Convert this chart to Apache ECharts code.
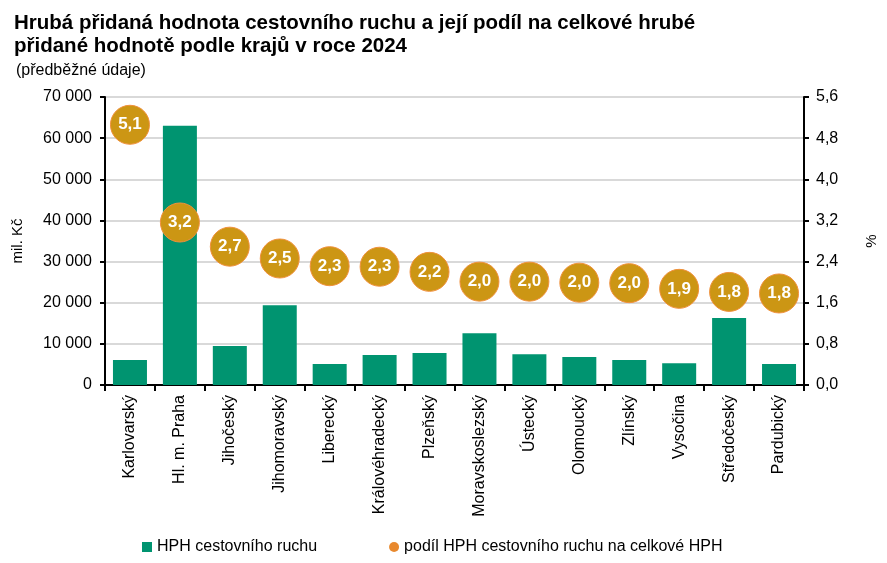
<!DOCTYPE html>
<html>
<head>
<meta charset="utf-8">
<script src="https://cdn.jsdelivr.net/npm/echarts@6/dist/echarts.min.js"></script>
<style>
  html, body { margin: 0; padding: 0; background: #fff; }
  #chart { width: 887px; height: 563px; }
</style>
</head>
<body>
<div id="chart"></div>
<script>
const regions = ['Karlovarský', 'Hl. m. Praha', 'Jihočeský', 'Jihomoravský', 'Liberecký', 'Královéhradecký', 'Plzeňský',
  'Moravskoslezský', 'Ústecký', 'Olomoucký', 'Zlínský', 'Vysočina', 'Středočeský', 'Pardubický']
// mil. Kč
const hphValues = [6100, 63000, 9500, 19400, 5100, 7300, 7800, 12600, 7500, 6800, 6100, 5300, 16300, 5100]
// %
const shareValues = [5.06, 3.16, 2.69, 2.46, 2.31, 2.30, 2.20, 2.01, 2.01, 1.99, 1.98, 1.87, 1.81, 1.78]

const fnt = 'Liberation Sans, Arial, sans-serif'
const fmtThousands = v => String(v).replace(/\B(?=(\d{3})+(?!\d))/g, ' ')
const fmtComma = (v, d) => v.toFixed(d).replace('.', ',')

const chart = echarts.init(document.getElementById('chart'))
const option = {
  animation: false,
  textStyle: { fontFamily: fnt },
  title: [
    {
      text: 'Hrubá přidaná hodnota cestovního ruchu a její podíl na celkové hrubé\npřidané hodnotě podle krajů v roce 2024',
      left: 9, top: 7,
      textStyle: { fontSize: 20.5, fontWeight: 'bold', color: '#000', lineHeight: 23, fontFamily: fnt }
    },
    {
      text: '(předběžné údaje)',
      left: 11, top: 58,
      textStyle: { fontSize: 16, fontWeight: 'normal', color: '#000', fontFamily: fnt }
    }
  ],
  legend: {
    bottom: 3,
    left: 137,
    itemGap: 72,
    itemWidth: 10,
    itemHeight: 10,
    textStyle: { fontSize: 16, color: '#000', fontFamily: fnt },
    data: [
      { name: 'HPH cestovního ruchu', icon: 'rect' },
      { name: 'podíl HPH cestovního ruchu na celkové HPH', icon: 'circle', itemStyle: { color: '#E8892E', borderWidth: 0 } }
    ]
  },
  grid: { left: 105, right: 78, top: 97, bottom: 178 },
  xAxis: {
    type: 'category',
    data: regions,
    axisLine: { lineStyle: { color: '#000', width: 2 } },
    axisTick: { show: true, length: 6, lineStyle: { color: '#000', width: 2 } },
    axisLabel: { rotate: 90, fontSize: 16, color: '#000', margin: 10, interval: 0 }
  },
  yAxis: [
    {
      type: 'value',
      min: 0, max: 70000, interval: 10000,
      name: 'mil. Kč',
      nameLocation: 'middle',
      nameGap: 80,
      nameRotate: 90,
      nameTextStyle: { fontSize: 15, color: '#000' },
      axisLine: { show: true, lineStyle: { color: '#000', width: 2 } },
      axisTick: { show: true, length: 5, lineStyle: { color: '#000', width: 2 } },
      axisLabel: { fontSize: 16, color: '#000', margin: 13, formatter: fmtThousands },
      splitLine: { lineStyle: { color: '#d9d9d9', width: 2 } }
    },
    {
      type: 'value',
      min: 0, max: 5.6, interval: 0.8,
      name: '%',
      nameLocation: 'middle',
      nameGap: 60,
      nameRotate: 90,
      nameTextStyle: { fontSize: 15, color: '#000' },
      axisLine: { show: true, lineStyle: { color: '#000', width: 2 } },
      axisTick: { show: true, length: 5, lineStyle: { color: '#000', width: 2 } },
      axisLabel: { fontSize: 16, color: '#000', margin: 12, formatter: v => fmtComma(v, 1) },
      splitLine: { show: false }
    }
  ],
  series: [
    {
      name: 'HPH cestovního ruchu',
      type: 'bar',
      data: hphValues,
      barWidth: 34,
      itemStyle: { color: '#009470' }
    },
    {
      name: 'podíl HPH cestovního ruchu na celkové HPH',
      type: 'scatter',
      yAxisIndex: 1,
      data: shareValues,
      symbolSize: 39,
      itemStyle: { color: '#CC9614', borderColor: '#F0903C', borderWidth: 1, opacity: 1 },
      label: {
        show: true,
        position: 'inside',
        color: '#fff',
        fontSize: 17,
        fontWeight: 'bold',
        formatter: p => fmtComma(Math.round(p.value * 10) / 10, 1)
      },
      z: 5
    }
  ]
}
chart.setOption(option)
</script>
</body>
</html>
